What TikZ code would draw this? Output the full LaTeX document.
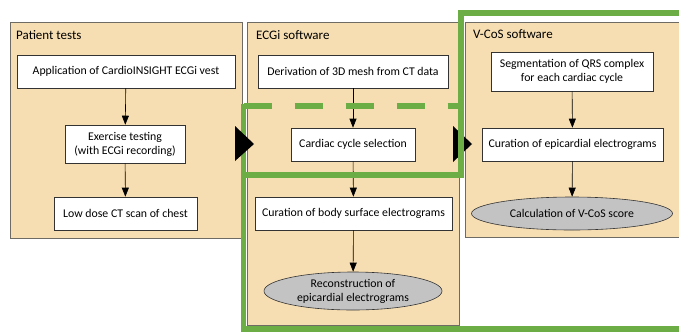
\documentclass[tikz,border=0pt]{standalone}
\usepackage{fontspec}
\setmainfont{Carlito}
\usetikzlibrary{shapes.geometric,arrows.meta}
\definecolor{paneltan}{HTML}{F6DEB2}
\definecolor{paneledge}{HTML}{6E6A64}
\definecolor{hlgreen}{HTML}{6DAD45}
\definecolor{ovalgray}{HTML}{C3C3C3}
\tikzset{
  panel/.style={draw=paneledge, line width=1pt, fill=paneltan},
  stepbox/.style={draw=black!80, line width=0.6pt, fill=white, align=center,
    inner sep=2pt, font=\fontsize{11.8}{14}\selectfont},
  resultoval/.style={ellipse, draw=black!80, line width=0.6pt, fill=ovalgray,
    align=center, inner sep=0pt, font=\fontsize{11.8}{14}\selectfont},
  paneltitle/.style={anchor=west, inner sep=0pt, font=\fontsize{13}{15}\selectfont},
  flow/.style={draw=black, line width=0.6pt, -{Triangle[width=7pt,length=9pt]}},
  hl/.style={draw=hlgreen, line width=5.5pt},
  pointer/.style={fill=black},
}
\begin{document}
\begin{tikzpicture}[x=1pt,y=-1pt]
\clip (0,0) rectangle (679,333);
\fill[white] (0,0) rectangle (679,333);

% panels
\draw[panel] (10,22) rectangle (242,238);
\draw[panel] (247,22) rectangle (459,325);
\draw[panel] (465,22) rectangle (700,237);

\node[paneltitle] (t1) at (16,35) {Patient tests};
\node[paneltitle] (t2) at (256,35) {ECGi software};
\node[paneltitle] (t3) at (473,34) {V-CoS software};

% patient tests
\node[stepbox, minimum width=218pt, minimum height=33pt] (vest) at (126,71.5) {Application of CardioINSIGHT ECGi vest};
\node[stepbox, minimum width=120pt, minimum height=38pt] (exer) at (125,144) {Exercise testing\\(with ECGi recording)};
\node[stepbox, minimum width=143pt, minimum height=33pt] (ct) at (125.5,213.5) {Low dose CT scan of chest};

% ECGi software
\node[stepbox, minimum width=190pt, minimum height=33pt] (mesh) at (353,71.5) {Derivation of 3D mesh from CT data};
\node[stepbox, minimum width=124pt, minimum height=33pt] (cycle) at (353,144.5) {Cardiac cycle selection};
\node[stepbox, minimum width=197pt, minimum height=33pt] (bse) at (353.5,213.5) {Curation of body surface electrograms};
\node[resultoval, minimum width=178pt, minimum height=38pt] (recon) at (353,291) {Reconstruction of\\epicardial electrograms};

% V-CoS software
\node[stepbox, minimum width=162pt, minimum height=39pt] (qrs) at (572,71.5) {Segmentation of QRS complex\\for each cardiac cycle};
\node[stepbox, minimum width=181pt, minimum height=33pt] (epi) at (572.5,144.5) {Curation of epicardial electrograms};
\node[resultoval, minimum width=201pt, minimum height=33pt] (score) at (572,213.5) {Calculation of V-CoS score};

% flow arrows
\draw[flow] (vest) -- (exer);
\draw[flow] (exer) -- (ct);
\draw[flow] (mesh) -- (cycle);
\draw[flow] (cycle) -- (bse);
\draw[flow] (bse) -- (recon);
\draw[flow] (qrs) -- (epi);
\draw[flow] (epi) -- (score);

% pointer into V-CoS panel (under the highlight)
\fill[pointer] (453,126) -- (472,144) -- (453,162) -- cycle;

% green highlight outlines
\draw[hlgreen, line width=5.5pt, dash pattern=on 28pt off 23pt] (243.5,106) -- (461,106);
\draw[hl] (700,13) -- (461,13) -- (461,175) -- (243.5,175);
\draw[hl] (243.5,103.5) -- (243.5,329) -- (700,329);

% pointer into ECGi panel (over the highlight)
\fill[pointer] (235,126) -- (254,144) -- (235,161) -- cycle;
\end{tikzpicture}
\end{document}
